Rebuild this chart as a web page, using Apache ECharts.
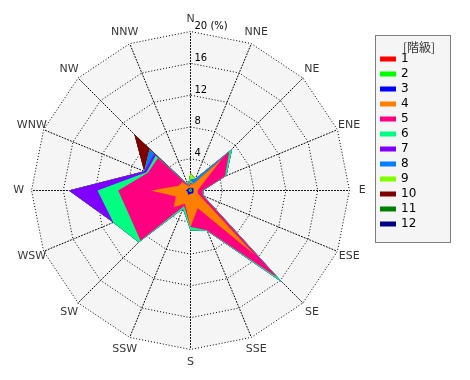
<!DOCTYPE html>
<html><head><meta charset="utf-8">
<script src="https://cdn.jsdelivr.net/npm/echarts@6/dist/echarts.min.js"></script>
<style>html,body{margin:0;padding:0;background:#fff}#c{width:470px;height:380px}</style>
</head><body><div id="c"></div>
<script>
// Wind directions, clockwise from North
const directions = ['N','NNE','NE','ENE','E','ESE','SE','SSE','S','SSW','SW','WSW','W','WNW','NW','NNW'];
const classNames = ['1','2','3','4','5','6','7','8','9','10','11','12'];
const classColors = ['#ff0000','#00ff00','#0000ff','#ff8000','#ff0080','#00ff80','#8000ff','#0080ff','#80ff00','#800000','#008000','#000080'];
const tickLabels = ['0','4','8','12','16','20 (%)'];
// frequency (%) per class, per direction (N..NNW clockwise)
const class1  = [0.1,0.1,0.1,0.1,0.1,0.1,0.1,0.1,0.1,0.1,0.1,0.1,0.1,0.1,0.1,0.1];
const class2  = [0.2,0.1,0.1,0.1,0.1,0.1,0.1,0.1,0.1,0.1,0.1,0.1,0.2,0.1,0.1,0.1];
const class3  = [0.1,0.1,0.3,0.2,0.2,0.2,0.3,0.2,0.2,0.4,0.3,0.2,0.3,0.2,0.2,0.1];
const class4  = [0.4,0.5,5.1,1.0,0.5,0.6,11.0,2.0,4.2,1.2,2.5,1.6,4.4,1.2,1.1,0.2];
const class5  = [0.2,0.1,1.3,3.3,0.6,0.7,4.0,3.0,0.0,0.3,5.9,6.3,4.1,4.2,4.3,0.1];
const class6  = [0.3,0.1,0.5,0.2,0.1,0.1,0.8,0.1,0.4,0.4,0.3,2.2,2.6,0.2,0.4,0.1];
const class7  = [0,0,0,0,0,0,0,0,0,0,0,0,3.6,0.3,0.3,0];
const class8  = [0.1,0.6,0,0,0,0,0,0,0,0,0,0,0,0,0.8,0.1];
const class9  = [0.8,0,0,0,0,0,0,0,0,0,0,0,0,0,0,0];
const class10 = [0,0,0,0,0,0,0,0,0,0,0,0,0,0,2.7,0];
const class11 = [0,0,0,0,0,0,0,0,0,0,0,0,0,0,0,0];
const class12 = [0,0,0,0,0,0,0,0,0,0,0,0,0,0,0,0];
const classValues = [class1,class2,class3,class4,class5,class6,class7,class8,class9,class10,class11,class12];

const CX = 190.5, CY = 190.5, R = 159;
const labelRadius = 21.6; // direction names sit just outside the 20% ring
// radar runs counter-clockwise: reorder to N, NNW, NW, ... NNE
const order = [0].concat(directions.map((d,i)=>i).slice(1).reverse());
const cum = [];
classValues.forEach((arr,k)=>{
  cum.push(arr.map((v,i)=> +(v + (k>0?cum[k-1][i]:0)).toFixed(3)));
});
const FONT = 'DejaVu Sans';
const indicators = order.map((i,j)=>{
  const o = {name: directions[i], min:0, max:20};
  if (j===0) o.axisLabel = {show:true, inside:true, color:'#000', fontSize:10, fontFamily:FONT,
     align:'left', verticalAlign:'bottom', margin:-4,
     formatter: v => tickLabels[Math.round(v/4)] };
  return o;
});
const series = [];
for (let k = classValues.length-1; k >= 0; k--) {
  series.push({
    type:'radar', name: classNames[k], symbol:'none', silent:true,
    lineStyle:{width:0, opacity:0},
    itemStyle:{color: classColors[k]},
    areaStyle:{color: classColors[k], opacity:1},
    data:[{value: order.map(i=>cum[k][i])}]
  });
}
series.push({
  type:'scatter', coordinateSystem:'polar', silent:true, clip:false, symbolSize:1,
  itemStyle:{color:'rgba(0,0,0,0)'},
  data: directions.map((d,i)=>[labelRadius, i]),
  label:{show:true, position:'inside', color:'#000', fontSize:11, fontFamily:FONT,
    formatter: p => directions[p.data[1]]},
  z: 5
});
const chart = echarts.init(document.getElementById('c'), null, {renderer:'canvas'});
chart.setOption({
  animation:false,
  backgroundColor:'#fff',
  graphic:[{type:'rect', z:-1, shape:{x:375.5, y:35.5, width:75, height:207},
    style:{fill:'#f5f5f5', stroke:'#000', lineWidth:1, lineDash:[1,1]}, silent:true}],
  title:{text:'[階級]', left:398, top:36, textStyle:{fontSize:12, fontWeight:'normal', color:'#333', fontFamily:'Noto Sans CJK JP'}},
  legend:{data: classNames, orient:'vertical', left:375, top:35, itemWidth:16, itemHeight:5, itemGap:3,
    icon:'rect', padding:[18,36,12,5],
    textStyle:{fontSize:12, color:'#000', fontFamily:FONT}, selectedMode:false},
  polar:{center:[CX,CY], radius:R},
  angleAxis:{type:'category', data:directions, startAngle:90 + 360/directions.length/2, clockwise:true, show:false},
  radiusAxis:{min:0, max:20, show:false},
  radar:{center:[CX,CY], radius:R, startAngle:90, shape:'polygon', splitNumber:5,
    indicator: indicators, axisName:{show:false},
    splitLine:{lineStyle:{color:'#000', type:[1,2], width:1}},
    splitArea:{show:true, areaStyle:{color:['#f5f5f5']}},
    axisLine:{lineStyle:{color:'#000', type:[1,2], width:1}},
    axisTick:{show:false}, axisLabel:{show:false}},
  series: series
});
</script></body></html>
